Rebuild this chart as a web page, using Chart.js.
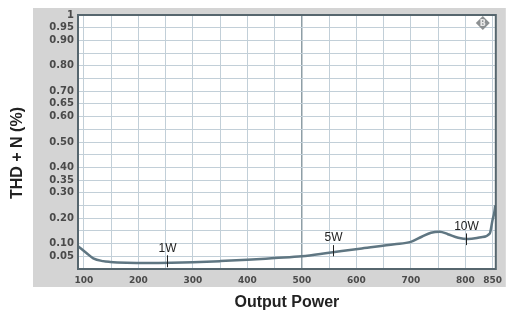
<!DOCTYPE html>
<html>
<head>
<meta charset="utf-8">
<script src="https://cdn.jsdelivr.net/npm/chart.js@4"></script>
<style>
  html, body { margin: 0; padding: 0; background: #fff; }
  #wrap { width: 508px; height: 319px; }
</style>
</head>
<body>
<div id="wrap"><canvas id="thdChart" width="508" height="319"></canvas></div>
<script>
// output power axis values and measured THD+N (%)
const power = [89, 105, 117, 135, 148, 178, 220, 260, 300, 350, 400, 450, 500, 550, 610, 670, 700, 720, 737, 753, 768, 787, 805, 829, 845, 850, 853, 855];
const thdn = [0.090, 0.062, 0.042, 0.031, 0.028, 0.025, 0.024, 0.025, 0.027, 0.031, 0.036, 0.043, 0.050, 0.064, 0.081, 0.097, 0.107, 0.127, 0.143, 0.147, 0.137, 0.123, 0.118, 0.125, 0.140, 0.193, 0.220, 0.250];

// tick labels that are printed
const xLabels = [100, 200, 300, 400, 500, 600, 700, 800, 850];
const yLabels = [1, 0.95, 0.9, 0.8, 0.7, 0.65, 0.6, 0.5, 0.4, 0.35, 0.3, 0.2, 0.1, 0.05];

// power markers on the curve
const markerText = ['1W', '5W', '10W'];
const markerPower = [253, 558, 801];
const markerLow = [0.007, 0.05, 0.094];
const markerHigh = [0.054, 0.094, 0.14];

const yTitle = 'THD + N (%)';
const tickFont = { family: 'DejaVu Sans', weight: 'bold' };

const panelPlugin = {
  id: 'panel',
  beforeDraw(chart) {
    const { ctx, chartArea: a } = chart;
    ctx.save();
    ctx.fillStyle = '#d4d4d4';
    ctx.fillRect(a.left - 45, a.top - 7, a.right - a.left + 55, a.bottom - a.top + 25);
    ctx.fillStyle = '#ffffff';
    ctx.fillRect(a.left, a.top, a.right - a.left, a.bottom - a.top);
    ctx.restore();
  },
  afterDraw(chart) {
    const { ctx, chartArea: a, scales } = chart;
    ctx.save();
    // plot frame
    ctx.strokeStyle = '#56666e';
    ctx.lineWidth = 2;
    ctx.strokeRect(a.left, a.top, a.right - a.left, a.bottom - a.top);

    // markers
    ctx.strokeStyle = '#222';
    ctx.lineWidth = 1;
    ctx.fillStyle = '#222';
    ctx.font = '12px "Liberation Sans", Arial, sans-serif';
    ctx.textAlign = 'center';
    ctx.textBaseline = 'bottom';
    markerText.forEach((t, i) => {
      const px = Math.round(scales.x.getPixelForValue(markerPower[i])) + 0.5;
      const y1 = scales.y.getPixelForValue(markerLow[i]);
      const y2 = scales.y.getPixelForValue(markerHigh[i]);
      ctx.beginPath();
      ctx.moveTo(px, y1);
      ctx.lineTo(px, y2);
      ctx.stroke();
      ctx.fillText(t, px, y2 - 1);
    });

    // y axis title, sits a little below the middle of the plot
    ctx.save();
    ctx.translate(18, (a.top + a.bottom) / 2 + 11);
    ctx.rotate(-Math.PI / 2);
    ctx.font = 'bold 16px "Liberation Sans", Arial, sans-serif';
    ctx.textBaseline = 'middle';
    ctx.fillText(yTitle, 0, 0);
    ctx.restore();

    // small logo in the corner
    const cx = a.right - 13, cy = a.top + 8;
    ctx.fillStyle = '#8c9092';
    ctx.beginPath();
    ctx.moveTo(cx, cy - 7); ctx.lineTo(cx + 7, cy); ctx.lineTo(cx, cy + 7); ctx.lineTo(cx - 7, cy);
    ctx.closePath();
    ctx.fill();
    ctx.fillStyle = '#e8e8e8';
    ctx.font = 'bold 8px "DejaVu Sans", sans-serif';
    ctx.textBaseline = 'middle';
    ctx.fillText('B', cx, cy + 0.5);
    ctx.restore();
  }
};

new Chart(document.getElementById('thdChart').getContext('2d'), {
  type: 'line',
  data: {
    datasets: [{
      label: 'THD + N',
      data: power.map((p, i) => ({ x: p, y: thdn[i] })),
      borderColor: '#5f7682',
      borderWidth: 2.5,
      pointRadius: 0,
      cubicInterpolationMode: 'monotone',
      fill: false
    }]
  },
  options: {
    responsive: false,
    animation: false,
    layout: { padding: { left: 8, top: 15, right: 10, bottom: 0 } },
    plugins: { legend: { display: false }, tooltip: { enabled: false } },
    scales: {
      x: {
        type: 'linear',
        min: 89,
        max: 856,
        afterFit(scale) { scale.height = 50; },
        afterBuildTicks(scale) {
          const t = [];
          for (let v = 100; v <= 850; v += 50) t.push({ value: v });
          scale.ticks = t;
        },
        grid: {
          drawTicks: false,
          color: ctx => ctx.tick && ctx.tick.value === 500 ? '#8e9ea6' : '#c2cfd8',
          lineWidth: ctx => ctx.tick && ctx.tick.value === 500 ? 1.5 : 1
        },
        border: { display: false },
        ticks: {
          autoSkip: false,
          maxRotation: 0,
          padding: 6,
          color: '#4a4a4a',
          font: { ...tickFont, size: 9 },
          callback: v => xLabels.includes(v) ? String(v) : ''
        },
        title: {
          display: true,
          text: 'Output Power',
          color: '#222',
          font: { family: 'Liberation Sans', weight: 'bold', size: 16 },
          padding: { top: 0, bottom: 7 }
        }
      },
      y: {
        min: 0,
        max: 1,
        afterFit(scale) { scale.width = 70; },
        afterBuildTicks(scale) {
          const t = [];
          for (let k = 0; k <= 20; k++) t.push({ value: k / 20 });
          scale.ticks = t;
        },
        grid: { drawTicks: false, color: '#c2cfd8' },
        border: { display: false },
        ticks: {
          autoSkip: false,
          padding: 4,
          color: '#4a4a4a',
          font: { ...tickFont, size: 10 },
          callback: v => {
            const r = Math.round(v * 100) / 100;
            if (!yLabels.includes(r)) return '';
            return r === 1 ? '1' : r.toFixed(2);
          }
        }
      }
    }
  },
  plugins: [panelPlugin]
});
</script>
</body>
</html>
